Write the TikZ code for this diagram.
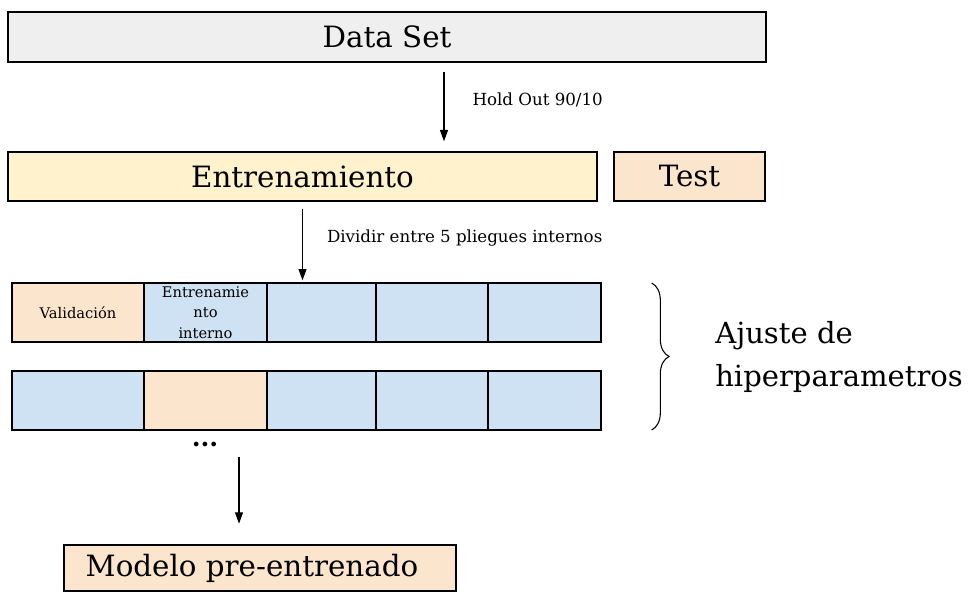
\documentclass[tikz,border=0pt]{standalone}
\usepackage{fontspec}
\setmainfont{DejaVu Serif}
\usetikzlibrary{arrows.meta, positioning, decorations.pathreplacing}
\definecolor{setgray}{HTML}{EFEFEF}
\definecolor{trainyellow}{HTML}{FFF2CC}
\definecolor{testpeach}{HTML}{FCE5CD}
\definecolor{foldblue}{HTML}{CFE2F3}

\begin{document}
\begin{tikzpicture}[
    x=0.75pt, y=-0.75pt,
    >={Triangle[length=8.5pt, width=6pt]},
    bar/.style={rectangle, draw=black, line width=0.9pt, fill=#1, inner sep=0pt, outer sep=0pt,
                anchor=north west, font=\fontsize{22}{26}\selectfont},
    fold/.style={rectangle, draw=black, line width=0.9pt, fill=#1, inner sep=0pt, outer sep=0pt,
                 minimum height=44.25pt, align=center, font=\fontsize{11}{15.5}\selectfont},
    arr/.style={->, line width=0.8pt},
    lbl/.style={font=\fontsize{12.5}{14}\selectfont, inner sep=0pt},
]
    \useasboundingbox (0,0) rectangle (968,592);

    % Hold out split
    \node[bar=setgray, minimum width=568.5pt, minimum height=37.5pt] (dataset) at (8,12) {Data Set};
    \node[bar=trainyellow, minimum width=441.75pt, minimum height=36.75pt] (train) at (8,152) {Entrenamiento};
    \node[bar=testpeach, minimum width=113.25pt, minimum height=36.75pt] (test) at (614,152) {Test};

    \coordinate (a1) at (444,0);
    \draw[arr, shorten <=7.5pt, shorten >=8pt] (dataset.south -| a1) -- node[lbl, pos=0.42, right=21pt] {Hold Out 90/10} (train.north -| a1);

    % Inner folds, first row
    \node[fold=testpeach, minimum width=99pt, anchor=north west] (c11) at (12,283) {Validación};
    \node[fold=foldblue, minimum width=92.25pt, right=0pt of c11] (c12) {Entrenamie\\nto\\interno};
    \node[fold=foldblue, minimum width=81.75pt, right=0pt of c12] (c13) {};
    \node[fold=foldblue, minimum width=84pt, right=0pt of c13] (c14) {};
    \node[fold=foldblue, minimum width=84.75pt, right=0pt of c14] (c15) {};

    % second row
    \node[fold=foldblue, minimum width=99pt, anchor=north west] (c21) at (12,371) {};
    \node[fold=testpeach, minimum width=92.25pt, right=0pt of c21] (c22) {};
    \node[fold=foldblue, minimum width=81.75pt, right=0pt of c22] (c23) {};
    \node[fold=foldblue, minimum width=84pt, right=0pt of c23] (c24) {};
    \node[fold=foldblue, minimum width=84.75pt, right=0pt of c24] (c25) {};

    \draw[arr, shorten <=6pt, shorten >=2pt] (train.south) -- node[lbl, pos=0.45, right=18pt] {Dividir entre 5 pliegues internos} (train.south |- c13.north);

    \node[font=\fontsize{19}{19}\selectfont\bfseries] (dots) at (205,444) {...};

    % Tuning brace
    \draw[decorate, decoration={brace, amplitude=13pt}, line width=0.8pt]
        ([xshift=38pt]c15.north east) -- ([xshift=38pt]c25.south east);
    \node[anchor=west, align=left, inner sep=0pt, font=\fontsize{21.8}{32}\selectfont] (tuning) at (715,357) {Ajuste de\\hiperparametros};

    % Final model
    \node[bar=testpeach, minimum width=294pt, minimum height=34.5pt] (model) at (64,545) {Modelo pre-entrenado\hspace*{12pt}};
    \coordinate (a3) at (239,0);
    \draw[arr, shorten <=20pt, shorten >=16pt] (c22.south -| a3) -- (model.north -| a3);
\end{tikzpicture}
\end{document}
